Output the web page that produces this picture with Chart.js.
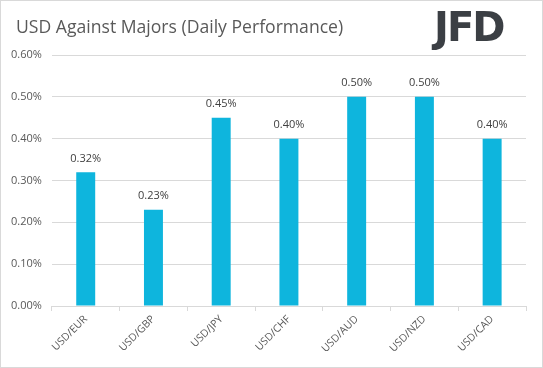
<!DOCTYPE html>
<html>
<head>
<meta charset="utf-8">
<script src="https://cdn.jsdelivr.net/npm/chart.js@4.4.0/dist/chart.umd.min.js"></script>
<style>
  html, body { margin: 0; padding: 0; background: #fff; }
  #wrap { position: relative; width: 541px; height: 366px; border: 1px solid #d9d9d9; }
  #title { position: absolute; left: 15px; top: 13px; font-family: "Open Sans", sans-serif; font-size: 17.6px;
           color: #595959; white-space: nowrap; }
  #logo { position: absolute; left: 433px; top: 3px; font-family: "DejaVu Sans", sans-serif; font-weight: bold;
          font-size: 40px; letter-spacing: -2px; color: #3b3f44; }
</style>
</head>
<body>
<div id="wrap">
  <canvas id="chart" width="541" height="366"></canvas>
  <div id="title">USD Against Majors (Daily Performance)</div>
  <div id="logo">JFD</div>
</div>
<script>
// data
var pairs = ["USD/EUR", "USD/GBP", "USD/JPY", "USD/CHF", "USD/AUD", "USD/NZD", "USD/CAD"];
var perf = [0.32, 0.23, 0.45, 0.40, 0.50, 0.50, 0.40];
var yTicks = [0, 0.1, 0.2, 0.3, 0.4, 0.5, 0.6];

// value labels above bars
var barLabels = {
  id: 'barLabels',
  afterDatasetsDraw: function(chart) {
    var ctx = chart.ctx;
    var meta = chart.getDatasetMeta(0);
    ctx.save();
    ctx.font = '11px "Open Sans", sans-serif';
    ctx.fillStyle = '#404040';
    ctx.textAlign = 'center';
    ctx.textBaseline = 'bottom';
    meta.data.forEach(function(bar, i) {
      ctx.fillText(perf[i].toFixed(2) + '%', bar.x, bar.y - 8);
    });
    ctx.restore();
  }
};

new Chart(document.getElementById("chart"), {
  type: 'bar',
  data: {
    labels: pairs,
    datasets: [{
      data: perf,
      backgroundColor: "#0eb5dd",
      barPercentage: 0.28,
      categoryPercentage: 1
    }]
  },
  options: {
    responsive: false,
    animation: false,
    layout: { padding: { left: 0, right: 16, top: 54, bottom: 10 } },
    plugins: {
      legend: { display: false },
      tooltip: { enabled: false }
    },
    scales: {
      x: {
        border: { color: '#d9d9d9' },
        grid: { offset: true, drawOnChartArea: false, tickLength: 5, color: '#d9d9d9' },
        ticks: {
          color: '#595959',
          padding: 2,
          font: { family: '"Open Sans", sans-serif', size: 10.5 },
          minRotation: 45, maxRotation: 45
        }
      },
      y: {
        min: 0, max: 0.6,
        afterBuildTicks: function(axis) {
          axis.ticks = yTicks.map(function(v) { return { value: v }; });
        },
        border: { display: false },
        grid: { color: '#d9d9d9', drawTicks: false },
        ticks: {
          color: '#595959',
          padding: 10,
          font: { family: '"Open Sans", sans-serif', size: 11 },
          callback: function(v) { return v.toFixed(2) + '%'; }
        }
      }
    }
  },
  plugins: [barLabels]
});
</script>
</body>
</html>
